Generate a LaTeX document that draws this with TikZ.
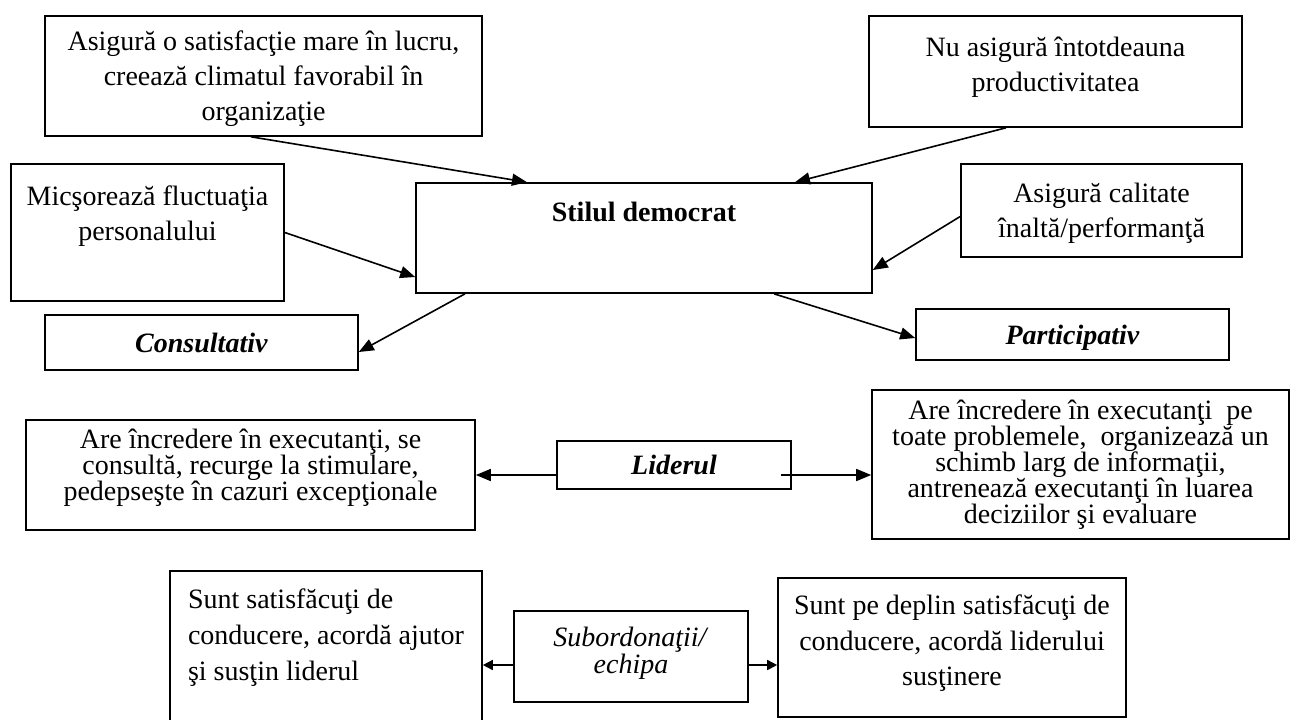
\documentclass[tikz,border=0pt]{standalone}
\usepackage{fontspec}
\setmainfont{Liberation Serif}
\usetikzlibrary{arrows.meta}

\begin{document}
\begin{tikzpicture}[x=0.5pt, y=-0.5pt, line width=0.8pt, >={Triangle[length=7.5pt, width=6pt]},
        main/.style = {draw, align=center, inner sep=0pt, font=\fontsize{14}{17.5}\selectfont},
        tight/.style = {font={\fontsize{14}{12.3}\selectfont\lineskip 0.3pt\relax}},
        up/.style = {text depth=#1},
        small/.style = {-{Triangle[length=5pt, width=5pt]}}]
        \useasboundingbox (0,0) rectangle (1291,719);
        \node[main, minimum width=218.5pt, minimum height=60pt, up=-7pt] (1) at (263.5,76) {Asigură o satisfacţie mare în lucru,\\ creează climatul favorabil în\\ organizaţie};
        \node[main, minimum width=186.5pt, minimum height=55.5pt, up=7pt] (2) at (1055.5,71.5) {Nu asigură întotdeauna\\ productivitatea};
        \node[main, minimum width=136.5pt, minimum height=68.5pt, up=19pt] (3) at (147.5,232.5) {Micşorează fluctuaţia\\ personalului};
        \node[main, minimum width=228pt, minimum height=55pt, text height=10pt, text depth=27pt] (4) at (644,238) {\textbf{Stilul democrat}};
        \node[main, minimum width=140.5pt, minimum height=46.5pt, up=-1pt] (5) at (1101.5,210.5) {Asigură calitate\\ înaltă/performanţă};
        \node[main, minimum width=156.5pt, minimum height=27.5pt] (6) at (201.5,342.5) {\textbf{\textit{Consultativ}}};
        \node[main, minimum width=156.5pt, minimum height=25.5pt, up=-4pt] (7) at (1072.5,334.5) {\textbf{\textit{Participativ}}};
        \node[main, tight, minimum width=224.5pt, minimum height=55pt, up=10pt] (8) at (250.5,475) {Are încredere în executanţi, se\\ consultă, recurge la stimulare,\\ pedepseşte în cazuri excepţionale};
        \node[main, minimum width=117pt, minimum height=24pt] (9) at (674,465) {\textbf{\textit{Liderul}}};
        \node[main, tight, minimum width=208.5pt, minimum height=74.5pt] (10) at (1080.5,464.5) {Are încredere în executanţi\ \ pe\\ toate problemele,\ \ organizează un\\ schimb larg de informaţii,\\ antrenează executanţi în luarea\\ deciziilor şi evaluare};
        \node[main, align=left, font=\fontsize{14}{18}\selectfont, minimum width=156pt, minimum height=82pt, up=18pt] (11) at (326,653) {Sunt satisfăcuţi de\\ conducere, acordă ajutor\\ şi susţin liderul};
        \node[main, font=\fontsize{14}{13.5}\selectfont, minimum width=117pt, minimum height=45.5pt, up=6pt] (12) at (631,656.5) {\textit{Subordonaţii/}\\ \textit{echipa}};
        \node[main, font=\fontsize{14}{17.75}\selectfont, minimum width=174pt, minimum height=69.5pt, up=7pt] (13) at (952,647.5) {Sunt pe deplin satisfăcuţi de\\ conducere, acordă liderului\\ susţinere};
        \draw[->] ([xshift=-6.25pt]1.south) -- ([xshift=-58.5pt]4.north);
        \draw[->] ([xshift=-24.75pt]2.south) -- ([xshift=75.5pt]4.north);
        \draw[->] (3.east) -- ([yshift=-19.5pt]4.west);
        \draw[->] ([yshift=-3pt]5.west) -- ([yshift=-16pt]4.east);
        \draw[->] ([xshift=-89.5pt]4.south) -- ([yshift=-4.75pt]6.east);
        \draw[->] ([xshift=65pt]4.south) -- ([yshift=-1.75pt]7.west);
        \draw[->] (8.east -| 9.west) -- (8.east);
        \draw[->] ([xshift=-5.5pt]9.east |- 8.east) -- (10.west |- 8.east);
        \draw[small] ([yshift=-4.25pt]12.west) -- ([yshift=-4.25pt]12.west -| 11.east);
        \draw[small] ([yshift=-4.25pt]12.east) -- ([yshift=-4.25pt]12.east -| 13.west);
    \end{tikzpicture}
\end{document}
